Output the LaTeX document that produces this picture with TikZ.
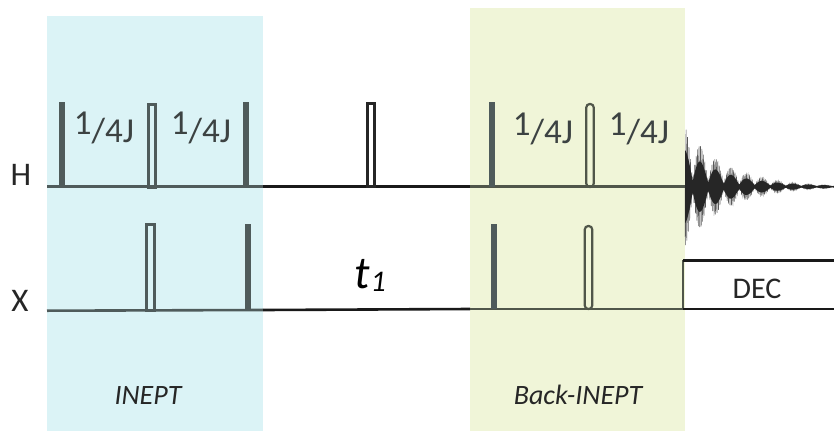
\documentclass[tikz,border=0pt]{standalone}
\usepackage{fontspec}
\setmainfont{Carlito}
\usetikzlibrary{backgrounds}
\definecolor{bandblue}{HTML}{DBF3F6}
\definecolor{bandgreen}{HTML}{F0F5D8}
\definecolor{pulsegrey}{HTML}{4F5B5B}
\definecolor{pulseolive}{HTML}{50564A}
\definecolor{textgrey}{HTML}{3C4242}
\begin{document}
\begin{tikzpicture}[x=1pt, y=-1pt, semithick]

%====Pulse and band styles===================================================

	\tikzstyle{band}=[anchor=north west, inner sep=0pt, outer sep=0pt]
	\tikzstyle{hard}=[anchor=south, inner sep=0pt, outer sep=0pt, minimum width=6pt, minimum height=85.5pt, fill=pulsegrey]
	\tikzstyle{soft}=[anchor=south, inner sep=0pt, outer sep=0pt, minimum width=7.5pt, minimum height=83pt, draw=pulsegrey, line width=3pt]
	\tikzstyle{shaped}=[soft, rounded corners=3.5pt, line width=2.2pt, draw=pulseolive]
	\tikzstyle{chan}=[font=\fontsize{33}{33}\selectfont, text=black!85, anchor=base, inner sep=0pt]
	\tikzstyle{delay}=[font=\fontsize{35}{35}\selectfont, text=textgrey, anchor=base, inner sep=0pt]
	\tikzstyle{blockname}=[font=\fontsize{28}{28}\selectfont\itshape, text=black!85, anchor=base, inner sep=0pt]
	\tikzstyle{baseline}=[line width=2.6pt, black!90]

	\useasboundingbox (0,0) rectangle (834,431);

%====Bands===================================================================
	\node[band, fill=bandblue, minimum width=216pt, minimum height=415pt]	(inept) at (47,16) {};
	\node[band, fill=bandgreen, minimum width=215pt, minimum height=423pt]	(back) at (470,8) {};

%====Channel ends============================================================
	\coordinate (Hstart) at (47,186.7);
	\coordinate (Hmidl) at (263,186.7);
	\coordinate (Hmidr) at (470,186.7);
	\coordinate (Hend) at (685,186.7);
	\coordinate (Xstart) at (47,310.7);
	\coordinate (Xmidl) at (263,310);
	\coordinate (Xmidr) at (470,309);
	\coordinate (Xend) at (683,309);
	\coordinate (Dbottom) at (834,309);
	\coordinate (Dtop) at (683,260);
	\coordinate (Dright) at (834,260);

%====Channel lines===========================================================
	\draw[baseline, pulsegrey] (Hstart) -- (Hmidl);
	\draw[baseline] (Hmidl) -- (Hmidr);
	\draw[baseline, pulseolive] (Hmidr) -- (Hend);
	\draw[baseline, pulsegrey] (Xstart) -- (Xmidl);
	\draw[baseline] (Xmidl) -- (Xmidr);
	\draw[baseline, pulseolive] (Xmidr) -- (Xend);
	\draw[baseline, pulseolive] (Xend) -- (Dtop);
	\draw[baseline, line width=3pt] (Dtop) -- (Dright);
	\draw[baseline] (Xend) -- (Dbottom);

%====Pulses==================================================================
	\node[hard]	(Ha) at (61.7,187) {};
	\node[soft]	(Hb) at (152,187) {};
	\node[hard]	(Hc) at (245.5,187) {};
	\node[soft, minimum width=7pt, draw=black!85]	(Hd) at (371,186) {};
	\node[hard]	(He) at (491.8,187) {};
	\node[shaped]	(Hf) at (590,187) {};
	\node[soft, minimum height=86pt]	(Xa) at (150.5,310) {};
	\node[hard, minimum height=86pt]	(Xb) at (248,310) {};
	\node[hard, minimum height=85pt]	(Xc) at (493.8,309) {};
	\node[shaped]	(Xd) at (588.5,309) {};

%====FID=====================================================================
	\draw[line width=.5pt, black!65] plot[domain=0:149, samples=1500] (685+\x, {186.7+60*exp(-\x/40)*(.12+.88*abs(cos(\x*11.613)))*sin(10*mod(\x*25,36))});
	\fill[black!85] plot[domain=0:149, samples=300] (685+\x, {186.7-.6*60*exp(-\x/40)*(.16+.84*abs(cos(\x*11.613)))-.5})
		-- plot[domain=149:0, samples=300] (685+\x, {186.7+.6*60*exp(-\x/40)*(.16+.84*abs(cos(\x*11.613)))+.5}) -- cycle;

%====Labels==================================================================
	\node[chan]	(H) at (21,185) {H};
	\node[chan]	(X) at (20,311) {X};
	\node[delay]	(Jone) at (104,142) {\raisebox{8pt}{1}/4J};
	\node[delay]	(Jtwo) at (201,142) {\raisebox{8pt}{1}/4J};
	\node[delay]	(Jthree) at (543,143) {\raisebox{8pt}{1}/4J};
	\node[delay]	(Jfour) at (639,143) {\raisebox{8pt}{1}/4J};
	\node[font=\fontsize{46}{46}\selectfont\itshape, text=black, anchor=base, inner sep=0pt]	(tone) at (370,288) {t\kern1pt\raisebox{-3pt}{\fontsize{30}{30}\selectfont 1}};
	\node[font=\fontsize{30}{30}\selectfont, text=black!85, anchor=base, inner sep=0pt]	(dec) at (757,298) {DEC};
	\node[blockname]	(ineptname) at (148,404) {INEPT};
	\node[blockname]	(backname) at (578,404) {Back-INEPT};
\end{tikzpicture}
\end{document}
